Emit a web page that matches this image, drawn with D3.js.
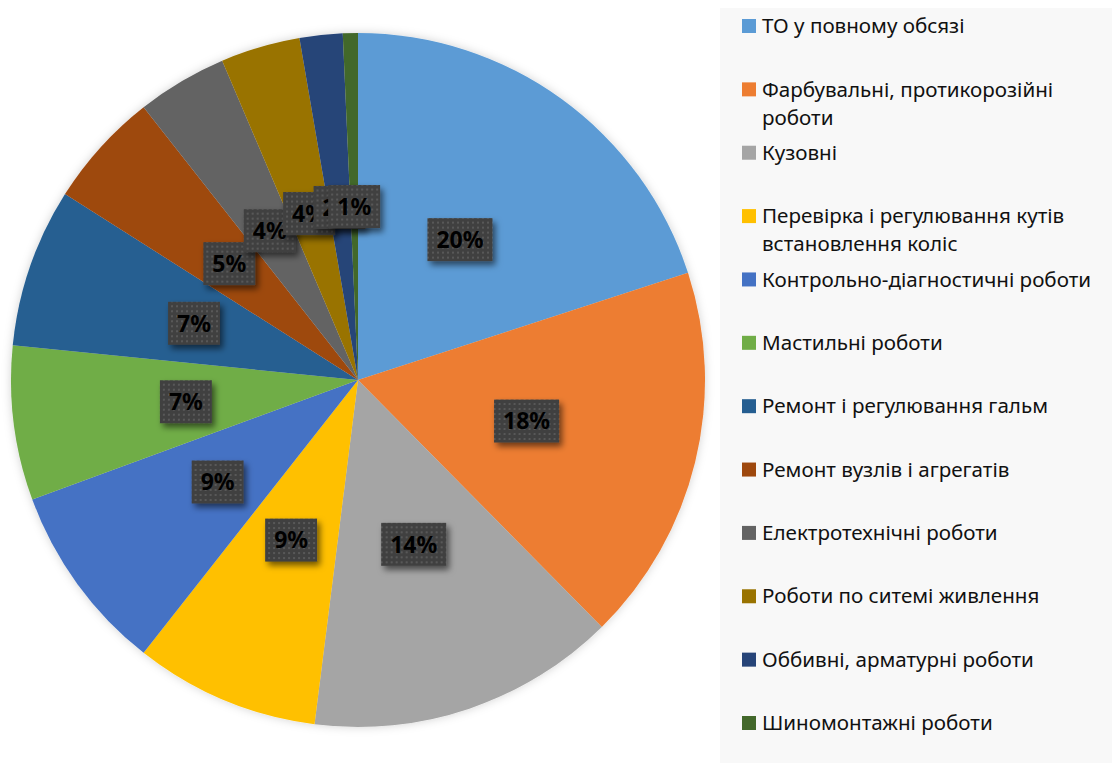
<!DOCTYPE html>
<html>
<head>
<meta charset="utf-8">
<script src="https://cdn.jsdelivr.net/npm/d3@7"></script>
<style>
  html, body { margin: 0; padding: 0; background: #fff; }
  svg { display: block; }
</style>
</head>
<body>
<script>
// categories of works (\n marks where the legend wraps)
var categories = [
  'ТО у повному обсязі',
  'Фарбувальні, протикорозійні\nроботи',
  'Кузовні',
  'Перевірка і регулювання кутів\nвстановлення коліс',
  'Контрольно-діагностичні роботи',
  'Мастильні роботи',
  'Ремонт і регулювання гальм',
  'Ремонт вузлів і агрегатів',
  'Електротехнічні роботи',
  'Роботи по ситемі живлення',
  'Оббивні, арматурні роботи',
  'Шиномонтажні роботи'
];
var values = [20.0, 17.6, 14.4, 8.6, 8.8, 7.2, 7.4, 5.4, 4.2, 3.7, 2.0, 0.7];
var colors = ['#5b9bd5', '#ed7d31', '#a5a5a5', '#ffc000', '#4472c4', '#70ad47',
              '#255e91', '#9e480e', '#636363', '#997300', '#264478', '#43682b'];

var width = 1112, height = 763;
var cx = 358, cy = 380, radius = 347;

var svg = d3.select('body').append('svg').attr('width', width).attr('height', height);
var defs = svg.append('defs');

var pat = defs.append('pattern').attr('id', 'dots')
  .attr('width', 5).attr('height', 5).attr('patternUnits', 'userSpaceOnUse');
pat.append('rect').attr('width', 5).attr('height', 5).attr('fill', '#404040');
pat.append('rect').attr('x', 2).attr('y', 2).attr('width', 2).attr('height', 2).attr('fill', '#595959');

defs.append('filter').attr('id', 'lblShadow')
  .attr('x', '-30%').attr('y', '-30%').attr('width', '160%').attr('height', '160%')
  .append('feDropShadow').attr('dx', 3).attr('dy', 4).attr('stdDeviation', 3)
  .attr('flood-color', '#000').attr('flood-opacity', 0.55);

defs.append('filter').attr('id', 'pieShadow')
  .attr('x', '-10%').attr('y', '-10%').attr('width', '120%').attr('height', '120%')
  .append('feDropShadow').attr('dx', 0).attr('dy', 0).attr('stdDeviation', 5)
  .attr('flood-color', '#000').attr('flood-opacity', 0.18);

// legend panel
svg.append('rect').attr('x', 720).attr('y', 8).attr('width', width - 720).attr('height', height - 8)
  .attr('fill', '#f8f8f8');

var total = d3.sum(values);
var pie = d3.pie().sort(null).value(function (d) { return d; });
var arcs = pie(values);
var arc = d3.arc().innerRadius(0).outerRadius(radius);

var g = svg.append('g').attr('transform', 'translate(' + cx + ',' + cy + ')');

g.append('g').attr('filter', 'url(#pieShadow)')
  .selectAll('path')
  .data(arcs)
  .enter()
  .append('path')
  .attr('d', arc)
  .attr('fill', function (d, i) { return colors[i]; });

// data labels
var labels = g.append('g')
  .selectAll('g')
  .data(arcs)
  .enter()
  .append('g')
  .attr('transform', function (d) { return 'translate(' + arc.centroid(d) + ')'; });

labels.append('rect').attr('class', 'box');
labels.append('text')
  .attr('text-anchor', 'middle')
  .attr('dy', '0.36em')
  .style('font-family', '"Noto Sans", sans-serif')
  .style('font-weight', 'bold')
  .style('font-size', '23px')
  .attr('fill', '#000')
  .text(function (d) { return Math.round(d.value / total * 100) + '%'; });

labels.each(function () {
  var el = d3.select(this);
  var w = el.select('text').node().getComputedTextLength() + 18;
  var h = 43;
  el.select('rect')
    .attr('x', -w / 2).attr('y', -h / 2)
    .attr('width', w).attr('height', h)
    .attr('fill', 'url(#dots)')
    .attr('filter', 'url(#lblShadow)');
});

// legend
var ly = d3.scalePoint().domain(categories).range([26, 723]);
var legend = svg.append('g')
  .selectAll('g')
  .data(categories)
  .enter()
  .append('g')
  .attr('transform', function (d) { return 'translate(742,' + ly(d) + ')'; });

legend.append('rect')
  .attr('x', 0).attr('y', -7).attr('width', 14).attr('height', 14)
  .attr('fill', function (d, i) { return colors[i]; });

legend.append('text')
  .attr('x', 20)
  .style('font-family', '"Noto Sans", sans-serif')
  .style('font-size', '20.6px')
  .attr('fill', '#111')
  .each(function (d) {
    var t = d3.select(this);
    d.split('\n').forEach(function (line, k) {
      t.append('tspan').attr('x', 20).attr('y', k * 28).attr('dy', '0.35em').text(line);
    });
  });
</script>
</body>
</html>
